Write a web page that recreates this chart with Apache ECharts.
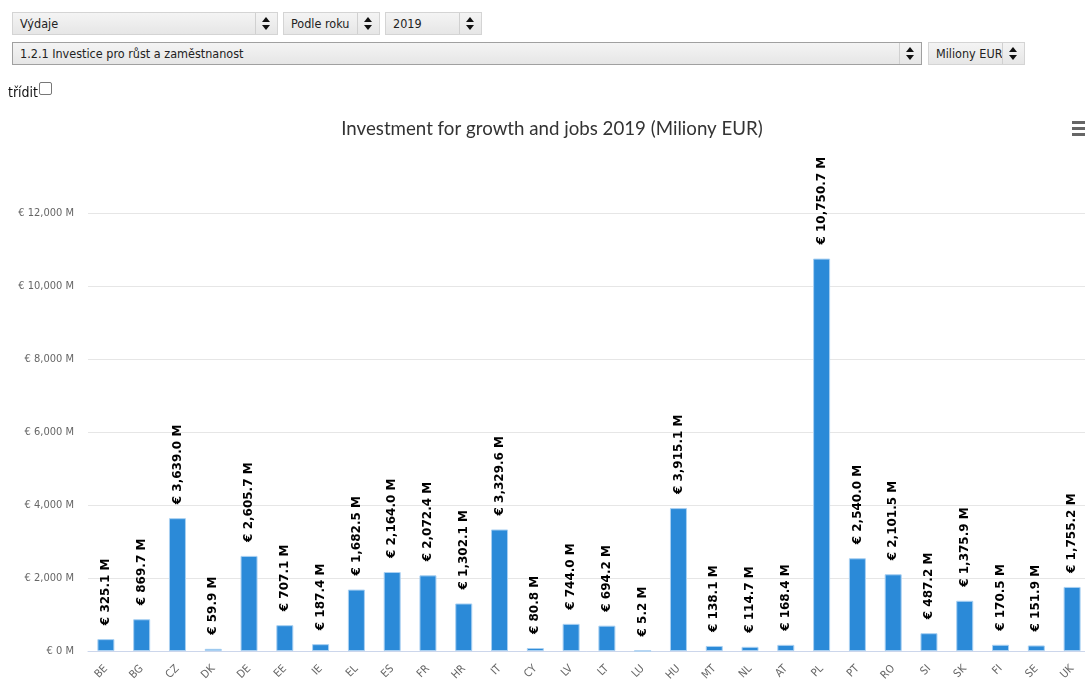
<!DOCTYPE html>
<html>
<head>
<meta charset="utf-8">
<script src="https://cdn.jsdelivr.net/npm/echarts@6/dist/echarts.min.js"></script>
<style>
html,body{margin:0;padding:0;width:1085px;height:679px;overflow:hidden;background:#fff;}
#chart{position:absolute;left:0;top:0;width:1085px;height:679px;}
.sel{position:absolute;height:23px;box-sizing:border-box;border:1px solid #d4d4d4;background:linear-gradient(#f4f4f4,#e6e6e6);font-family:"DejaVu Sans Condensed","DejaVu Sans",sans-serif;font-size:12.5px;color:#222;line-height:21px;padding-left:7px;z-index:2;}
.sel.dark{border:1px solid #a0a0a0;}
.sel .arr{position:absolute;right:0;top:0;width:21px;height:21px;border-left:1px solid #d0d0d0;}
.sel .arr:before{content:"";position:absolute;left:6px;top:4px;border-left:4px solid transparent;border-right:4px solid transparent;border-bottom:5px solid #111;}
.sel .arr:after{content:"";position:absolute;left:6px;top:12px;border-left:4px solid transparent;border-right:4px solid transparent;border-top:5px solid #111;}
#sort{position:absolute;left:8px;top:82px;font-family:"DejaVu Sans Condensed","DejaVu Sans",sans-serif;font-size:14px;color:#111;z-index:2;}
#sort span.cb{display:inline-block;width:11px;height:11px;border:1px solid #777;border-radius:2px;vertical-align:2px;margin-left:1px;background:#fff;}
</style>
</head>
<body>
<div id="chart"></div>
<div class="sel" style="left:12px;top:12px;width:266px;">Výdaje<div class="arr"></div></div>
<div class="sel" style="left:283px;top:12px;width:97px;">Podle roku<div class="arr"></div></div>
<div class="sel" style="left:385px;top:12px;width:97px;">2019<div class="arr"></div></div>
<div class="sel dark" style="left:12px;top:42px;width:910px;">1.2.1 Investice pro růst a zaměstnanost<div class="arr"></div></div>
<div class="sel" style="left:928px;top:42px;width:97px;">Miliony EUR<div class="arr"></div></div>
<div id="sort">třídit<span class="cb"></span></div>
<script>
const categories = ["BE","BG","CZ","DK","DE","EE","IE","EL","ES","FR","HR","IT","CY","LV","LT","LU","HU","MT","NL","AT","PL","PT","RO","SI","SK","FI","SE","UK"];
const values = [325.1,869.7,3639.0,59.9,2605.7,707.1,187.4,1682.5,2164.0,2072.4,1302.1,3329.6,80.8,744.0,694.2,5.2,3915.1,138.1,114.7,168.4,10750.7,2540.0,2101.5,487.2,1375.9,170.5,151.9,1755.2];
const chartTitle = "Investment for growth and jobs 2019 (Miliony EUR)";

function fmt(v, dec){
  return v.toLocaleString('en-US',{minimumFractionDigits:dec,maximumFractionDigits:dec});
}
const chart = echarts.init(document.getElementById('chart'));
chart.setOption({
  animation:false,
  title:{text:chartTitle,left:547,textAlign:'center',top:114,textStyle:{fontFamily:'Lato, "Open Sans", sans-serif',fontSize:18.7,fontWeight:'normal',color:'#333'}},
  grid:{left:88,right:-5,top:213,bottom:28,containLabel:false,outerBoundsMode:'none'},
  xAxis:{type:'category',data:categories,
    axisLine:{lineStyle:{color:'#ccd6eb'}},axisTick:{show:false},
    axisLabel:{rotate:45,color:'#666',fontSize:11,fontFamily:'"DejaVu Sans Condensed",sans-serif',margin:16,interval:0}},
  yAxis:{type:'value',min:0,max:12000,interval:2000,
    splitLine:{lineStyle:{color:'#e6e6e6'}},axisLine:{show:false},axisTick:{show:false},
    axisLabel:{color:'#666',fontSize:11,fontFamily:'"DejaVu Sans Condensed",sans-serif',margin:14,formatter:v=>'€ '+fmt(v,0)+' M'}},
  series:[{type:'bar',data:values,barWidth:17,
    itemStyle:{color:'#2b8ad8',borderColor:'#a9d0f2',borderWidth:1},
    label:{show:true,position:'top',rotate:90,align:'left',verticalAlign:'middle',distance:14,
      fontFamily:'"DejaVu Sans",sans-serif',fontWeight:'bold',fontSize:12,color:'#000',
      formatter:p=>'€ '+fmt(p.value,1)+' M'}}],
  graphic:[
    {type:'rect',left:1072,top:121,shape:{width:14,height:3},style:{fill:'#666'}},
    {type:'rect',left:1072,top:127,shape:{width:14,height:3},style:{fill:'#666'}},
    {type:'rect',left:1072,top:133,shape:{width:14,height:3},style:{fill:'#666'}}
  ]
});
</script>
</body>
</html>
